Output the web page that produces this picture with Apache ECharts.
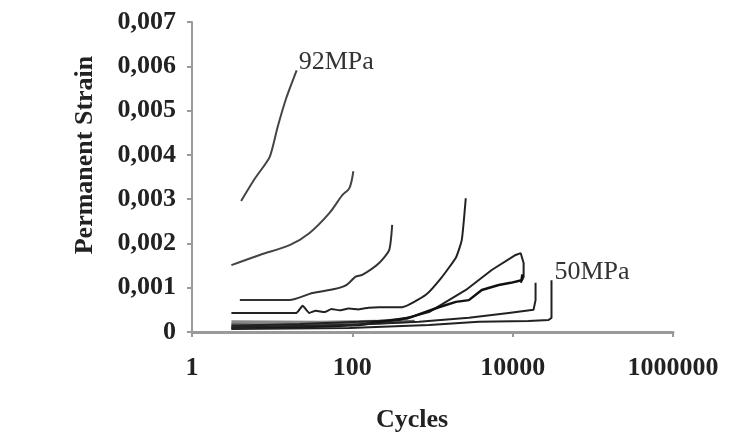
<!DOCTYPE html>
<html>
<head>
<meta charset="utf-8">
<script src="https://cdn.jsdelivr.net/npm/echarts@6/dist/echarts.min.js"></script>
<style>html,body{margin:0;padding:0;background:#fff}#c{width:734px;height:440px}</style>
</head>
<body>
<div id="c"></div>
<script>
// Tick labels
const xTicks = [1, 100, 10000, 1000000];
const yTicks = [0, 0.001, 0.002, 0.003, 0.004, 0.005, 0.006, 0.007];

// Curves: cycles and permanent strain (x 1e-3)
const c1N = [4.1, 6, 9.3, 11.7, 15.1, 20.2];
const c1S = [2.96, 3.45, 3.95, 4.63, 5.3, 5.91];

const c2N = [3.1, 7, 16.5, 29, 52, 75, 92, 103];
const c2S = [1.51, 1.74, 1.96, 2.23, 2.69, 3.09, 3.25, 3.63];

const c3N = [3.95, 16.5, 31.8, 60, 84, 110, 133, 216, 288, 314];
const c3S = [0.72, 0.72, 0.88, 0.97, 1.06, 1.25, 1.29, 1.56, 1.85, 2.42];

const c4N = [3.1, 20, 24, 29, 35, 45, 55, 69, 90, 120, 160, 216, 418, 826, 1310, 1970, 2320, 2600];
const c4S = [0.43, 0.43, 0.59, 0.43, 0.48, 0.45, 0.52, 0.49, 0.53, 0.51, 0.55, 0.56, 0.56, 0.84, 1.24, 1.69, 2.08, 3.02];

const c5N = [3.1, 22, 122, 384, 905, 2610, 5480, 10900, 12600, 13700, 13700, 12600];
const c5S = [0.14, 0.18, 0.23, 0.27, 0.45, 0.95, 1.40, 1.74, 1.78, 1.56, 1.24, 1.11];

const c6N = [3.1, 22, 122, 510, 1200, 1960, 2840, 4120, 6700, 9440, 12900, 13200];
const c6S = [0.09, 0.11, 0.16, 0.32, 0.56, 0.68, 0.72, 0.95, 1.06, 1.11, 1.17, 1.30];

const c7N = [3.1, 92, 680, 2840, 8920, 18200, 19300, 19300];
const c7S = [0.11, 0.16, 0.23, 0.32, 0.43, 0.50, 0.72, 1.11];

const c8N = [3.1, 92, 905, 3780, 15800, 28000, 30500, 30500];
const c8S = [0.07, 0.09, 0.16, 0.23, 0.25, 0.27, 0.32, 1.17];

const c9N = [3.1, 40, 200, 500];
const c9S = [0.23, 0.22, 0.24, 0.30];

const c10N = [3.1, 30, 150, 600];
const c10S = [0.17, 0.15, 0.19, 0.24];

const labelTop = '92MPa';
const labelBottom = '50MPa';

function pts(n, s) { return n.map((v, i) => [v, s[i] / 1000]); }

const serif = '"Liberation Serif", "DejaVu Serif", serif';

function line(n, s, color, width, smooth, extra) {
  return Object.assign({
    type: 'line', data: pts(n, s), showSymbol: false, smooth: smooth,
    lineStyle: { color: color, width: width }, animation: false, silent: true
  }, extra || {});
}

const chart = echarts.init(document.getElementById('c'));
chart.setOption({
  animation: false,
  grid: { left: 192, right: 61, top: 22, bottom: 108, containLabel: false },
  xAxis: {
    type: 'log', logBase: 10, min: xTicks[0], max: xTicks[xTicks.length - 1], interval: 2,
    axisLine: { lineStyle: { color: '#9a9a9a', width: 3 } },
    axisTick: { show: true, length: 5, lineStyle: { color: '#9a9a9a', width: 2 } },
    minorTick: { show: false },
    splitLine: { show: false },
    axisLabel: { margin: 23, fontFamily: serif, fontWeight: 'bold', fontSize: 26, color: '#222',
      formatter: v => String(Math.round(v)) }
  },
  yAxis: {
    type: 'value', min: yTicks[0], max: yTicks[yTicks.length - 1], interval: 0.001,
    axisLine: { show: true, lineStyle: { color: '#9a9a9a', width: 2 } },
    axisTick: { show: true, length: 5, lineStyle: { color: '#9a9a9a', width: 2 } },
    splitLine: { show: false },
    axisLabel: { margin: 16, fontFamily: serif, fontWeight: 'bold', fontSize: 26, color: '#222',
      formatter: v => v === 0 ? '0' : v.toFixed(3).replace('.', ',') }
  },
  graphic: [
    { type: 'text', x: 85, y: 155, rotation: Math.PI / 2,
      style: { text: 'Permanent Strain', fontFamily: serif, fontWeight: 'bold', fontSize: 26,
        fill: '#222', textAlign: 'center', textVerticalAlign: 'middle' } },
    { type: 'text', x: 412, y: 420,
      style: { text: 'Cycles', fontFamily: serif, fontWeight: 'bold', fontSize: 26,
        fill: '#222', textAlign: 'center', textVerticalAlign: 'middle' } }
  ],
  series: [
    line(c1N, c1S, '#444', 2, 0.2, { endLabel: { show: true, formatter: labelTop, fontFamily: serif,
      fontSize: 26, color: '#333', distance: 2, offset: [0, -8] } }),
    line(c2N, c2S, '#444', 2, 0.3),
    line(c3N, c3S, '#333', 2, 0.2),
    line(c4N, c4S, '#222', 2, 0.15),
    line(c9N, c9S, '#888', 3, false),
    line(c10N, c10S, '#666', 3, false),
    line(c5N, c5S, '#222', 2, false),
    line(c6N, c6S, '#111', 2.5, false),
    line(c7N, c7S, '#222', 2, false),
    line(c8N, c8S, '#222', 2, false, { endLabel: { show: true, formatter: labelBottom, fontFamily: serif,
      fontSize: 26, color: '#333', distance: 3, offset: [0, -8] } })
  ]
});
</script>
</body>
</html>
